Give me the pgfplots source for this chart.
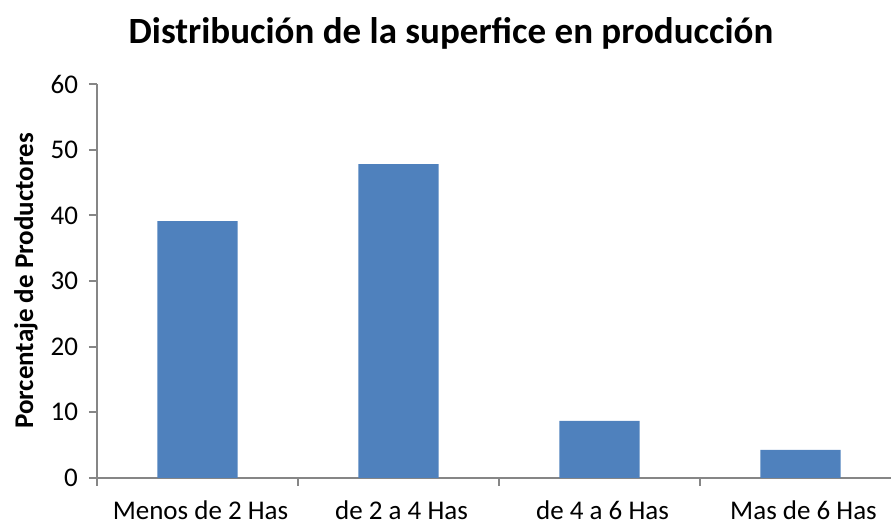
\documentclass[border=0pt]{standalone}
\usepackage{pgfplots}
\pgfplotsset{compat=1.18}
\usepackage{fontspec}
\setmainfont{Carlito}
\definecolor{barblue}{HTML}{4F81BD}
\definecolor{axgray}{HTML}{868686}
\begin{document}
\begin{tikzpicture}
\begin{axis}[
  at={(0pt,0pt)}, anchor=south west,
  scale only axis, width=402pt, height=197pt,
  xmin=-0.5, xmax=3.5, ymin=0, ymax=60,
  axis x line=bottom, axis y line=left,
  axis line style={-, draw=axgray, line width=0.9pt},
  tick align=outside, major tick length=4pt,
  tick style={draw=axgray, line width=0.9pt},
  ytick={0,10,20,30,40,50,60},
  xtick={-0.5,0.5,1.5,2.5,3.5},
  x tick label as interval,
  xticklabels={Menos de 2 Has, de 2 a 4 Has, de 4 a 6 Has, Mas de 6 Has},
  /pgf/number format/assume math mode=true,
  ticklabel style={font=\fontsize{13.5}{16}\selectfont},
  xticklabel style={anchor=base, yshift=-17pt, xshift=1.5pt},
  yticklabel style={anchor=east, xshift=-2pt},
  ylabel={Porcentaje de Productores},
  ylabel style={at={(axis description cs:-0.0883,0.5)}, anchor=center, font=\bfseries\fontsize{13.5}{16}\selectfont},
  title={Distribución de la superfice en producción},
  title style={at={(axis description cs:0.4403,1.0736)}, anchor=base, font=\bfseries\fontsize{18.5}{21}\selectfont},
  ybar, bar width=0.4,
]
\addplot[fill=barblue, draw=none] coordinates {(0,39.1) (1,47.8) (2,8.7) (3,4.3)};
\end{axis}
\pgfresetboundingbox
\path[use as bounding box] (-48.5pt,-23pt) rectangle (397pt,239pt);
\end{tikzpicture}
\end{document}
